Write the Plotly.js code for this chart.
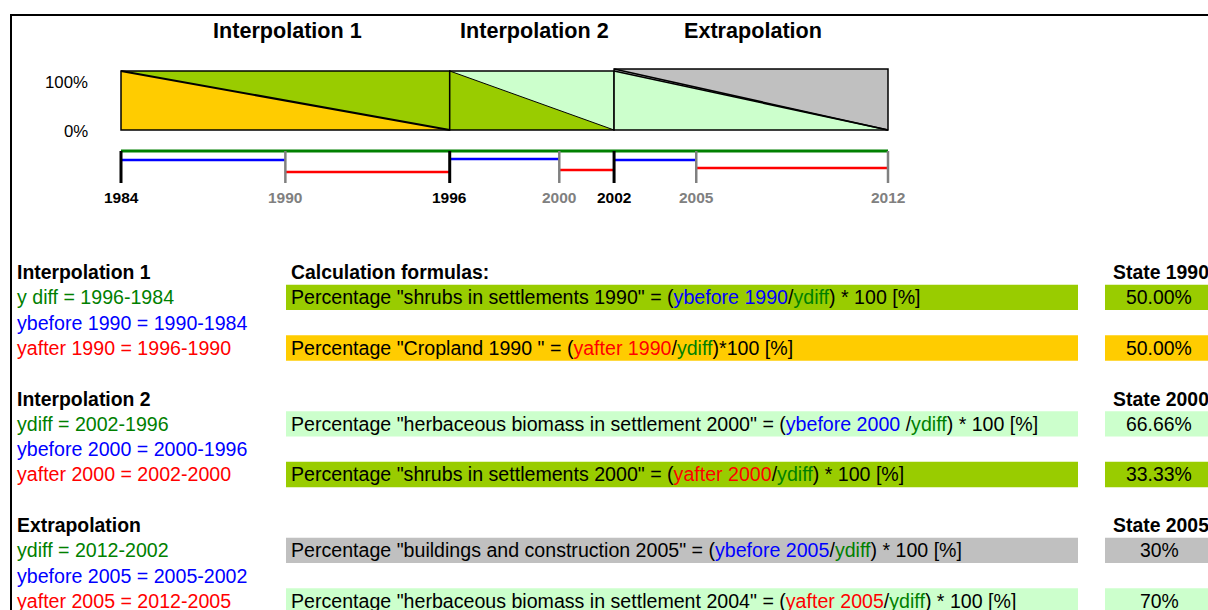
<!DOCTYPE html>
<html><head><meta charset="utf-8">
<script src="https://cdn.plot.ly/plotly-3.0.1.min.js"></script>
<style>html,body{margin:0;padding:0;background:#fff;overflow:hidden}#chart{width:1208px;height:610px}</style>
</head><body><div id="chart"></div>
<script>
// ---------------- data ----------------
const bandTitles = ['Interpolation 1', 'Interpolation 2', 'Extrapolation'];
const bandStart = [1984, 1996, 2002];
const bandEnd = [1996, 2002, 2012];
const stateYears = [1990, 2000, 2005];
const tickYears = [1984, 1990, 1996, 2000, 2002, 2005, 2012];
const keyYears = [1984, 1996, 2002];
const shareTop = 100;   // %
const shareBottom = 0;  // %
const yTickLabels = ['100%', '0%'];

const sectionHeaders = ['Interpolation 1', 'Interpolation 2', 'Extrapolation'];
const diffTexts = ['y diff = 1996-1984', 'ydiff = 2002-1996', 'ydiff = 2012-2002'];
const beforeTexts = ['ybefore 1990 = 1990-1984', 'ybefore 2000 = 2000-1996', 'ybefore 2005 = 2005-2002'];
const afterTexts = ['yafter 1990 = 1996-1990', 'yafter 2000 = 2002-2000', 'yafter 2005 = 2012-2005'];
const beforeFormulas = [
  'Percentage "shrubs in settlements 1990" = (<B>ybefore 1990</B>/<G>ydiff</G>) * 100 [%]',
  'Percentage "herbaceous biomass in settlement 2000" = (<B>ybefore 2000 </B>/<G>ydiff</G>) * 100 [%]',
  'Percentage "buildings and construction 2005" = (<B>ybefore 2005</B>/<G>ydiff</G>) * 100 [%]'
];
const afterFormulas = [
  'Percentage "Cropland 1990 " = (<R>yafter 1990</R>/<G>ydiff</G>)*100 [%]',
  'Percentage "shrubs in settlements 2000" = (<R>yafter 2000</R>/<G>ydiff</G>) * 100 [%]',
  'Percentage "herbaceous biomass in settlement 2004" = (<R>yafter 2005</R>/<G>ydiff</G>) * 100 [%]'
];
const beforeValues = ['50.00%', '66.66%', '30%'];
const afterValues = ['50.00%', '33.33%', '70%'];
const stateHeaders = ['State 1990', 'State 2000', 'State 2005'];
const formulasHeader = 'Calculation formulas:';

// ---------------- styles / layout constants ----------------
const W = 1208, H = 610;
const FONT = 'Arial, "Liberation Sans", sans-serif';
const C_YELLOW = '#FFCC00', C_GREEN = '#99CC00', C_LIGHT = '#CCFFCC', C_GREY = '#C0C0C0';
const lowerColors = [C_YELLOW, C_GREEN, C_LIGHT];
const upperColors = [C_GREEN, C_LIGHT, C_GREY];
const diagWidths = [2, 1, 1.5];
const topOffset = [0, 0, 3.4];   // extra height (in %) of the drawn box
const T_GREEN = '#008000', T_BLUE = '#0000FF', T_RED = '#FF0000', T_GREYTXT = '#808080';
const titleCentersPx = [287, 534, 753];
// year axis: 1984 -> px 121, 2012 -> px 888
const pxPerYear = (888 - 121) / 28;
const X0 = 1984 - 121 / pxPerYear, X1 = X0 + W / pxPerYear;
// percent axis: 100% -> px 71, 0% -> px 130
const pxPerPct = (130 - 71) / 100;
const Y0 = -(H - 130) / pxPerPct, Y1 = 100 + 71 / pxPerPct;
const px = x => x / W, py = y => 1 - y / H;
const ROW0 = 272, ROWH = 25.3;
const rowY = i => ROW0 + ROWH * i;
const greenLinePx = 151, blueLinePx = [160, 159, 160], redLinePx = [172, 170, 168];
const tickTopPx = 151, tickBotPx = 183, tickLabelPx = 197;
const TF = 19.6, TFB = 19.4, TITLE_F = 21.6, YEAR_F = 15.5, PCT_F = 16.8, VAL_F = 19.4;

function colorize(s) {
  return s.replace(/<B>/g, '<span style="color:' + T_BLUE + '">')
          .replace(/<G>/g, '<span style="color:' + T_GREEN + '">')
          .replace(/<R>/g, '<span style="color:' + T_RED + '">')
          .replace(/<\/[BGR]>/g, '</span>');
}

const shapes = [];
const annotations = [];

// frame lines
shapes.push({type: 'line', xref: 'paper', yref: 'paper', x0: px(11), x1: px(1215), y0: py(15), y1: py(15), line: {color: '#000', width: 2}});
shapes.push({type: 'line', xref: 'paper', yref: 'paper', x0: px(11), x1: px(11), y0: py(14), y1: py(615), line: {color: '#000', width: 2}});

// bands
for (let i = 0; i < bandStart.length; i++) {
  const a = bandStart[i], b = bandEnd[i];
  const top = shareTop + topOffset[i];
  shapes.push({type: 'path', xref: 'x', yref: 'y', layer: 'above',
    path: `M${a},${top} L${b},${top} L${b},${shareBottom} L${a},${shareBottom} Z`,
    fillcolor: upperColors[i], line: {width: 0}});
  shapes.push({type: 'path', xref: 'x', yref: 'y', layer: 'above',
    path: `M${a},${shareTop} L${b},${shareBottom} L${a},${shareBottom} Z`,
    fillcolor: lowerColors[i], line: {width: 0}});
  shapes.push({type: 'line', xref: 'x', yref: 'y', layer: 'above',
    x0: a, y0: shareTop, x1: b, y1: shareBottom, line: {color: '#000', width: diagWidths[i]}});
  if (topOffset[i] > 0) {
    shapes.push({type: 'line', xref: 'x', yref: 'y', layer: 'above',
      x0: a, y0: top, x1: b, y1: shareBottom, line: {color: '#000', width: diagWidths[i]}});
  }
  shapes.push({type: 'rect', xref: 'x', yref: 'y', layer: 'above',
    x0: a, y0: shareBottom, x1: b, y1: top, line: {color: '#000', width: 1.5}, fillcolor: 'rgba(0,0,0,0)'});
  annotations.push({xref: 'paper', yref: 'paper', x: px(titleCentersPx[i]), y: py(30), xanchor: 'center', yanchor: 'middle',
    text: '<b>' + bandTitles[i] + '</b>', showarrow: false, font: {family: FONT, size: TITLE_F, color: '#000'}});
}
// percent labels
annotations.push({xref: 'paper', yref: 'paper', x: px(90), y: py(82), xanchor: 'right', yanchor: 'middle', showarrow: false,
  text: yTickLabels[0], font: {family: FONT, size: PCT_F, color: '#000'}});
annotations.push({xref: 'paper', yref: 'paper', x: px(90), y: py(131), xanchor: 'right', yanchor: 'middle', showarrow: false,
  text: yTickLabels[1], font: {family: FONT, size: PCT_F, color: '#000'}});

// timeline
const tl = (y) => py(y);
shapes.push({type: 'line', xref: 'x', yref: 'paper', x0: bandStart[0], x1: bandEnd[bandEnd.length - 1],
  y0: tl(greenLinePx), y1: tl(greenLinePx), line: {color: T_GREEN, width: 3}});
for (let i = 0; i < stateYears.length; i++) {
  shapes.push({type: 'line', xref: 'x', yref: 'paper', x0: bandStart[i], x1: stateYears[i],
    y0: tl(blueLinePx[i]), y1: tl(blueLinePx[i]), line: {color: T_BLUE, width: 2.5}});
  shapes.push({type: 'line', xref: 'x', yref: 'paper', x0: stateYears[i], x1: bandEnd[i],
    y0: tl(redLinePx[i]), y1: tl(redLinePx[i]), line: {color: T_RED, width: 2.5}});
}
tickYears.forEach(yr => {
  const key = keyYears.includes(yr);
  shapes.push({type: 'line', xref: 'x', yref: 'paper', x0: yr, x1: yr, y0: tl(tickTopPx), y1: tl(tickBotPx),
    line: {color: key ? '#000' : T_GREYTXT, width: key ? 3 : 2.5}});
  annotations.push({xref: 'x', yref: 'paper', x: yr, y: tl(tickLabelPx), xanchor: 'center', yanchor: 'middle', showarrow: false,
    text: '<b>' + yr + '</b>', font: {family: FONT, size: YEAR_F, color: key ? '#000' : T_GREYTXT}});
});

// table
annotations.push({xref: 'paper', yref: 'paper', x: px(289), y: py(rowY(0)), xanchor: 'left', yanchor: 'middle', showarrow: false,
  text: '<b>' + formulasHeader + '</b>', font: {family: FONT, size: TFB, color: '#000'}});
for (let s = 0; s < 3; s++) {
  const base = s * 5;
  const leftRows = [
    ['<b>' + sectionHeaders[s] + '</b>', '#000'],
    [diffTexts[s], T_GREEN],
    [beforeTexts[s], T_BLUE],
    [afterTexts[s], T_RED]
  ];
  leftRows.forEach((r, k) => {
    annotations.push({xref: 'paper', yref: 'paper', x: px(15), y: py(rowY(base + k)), xanchor: 'left', yanchor: 'middle',
      showarrow: false, text: r[0], font: {family: FONT, size: k === 0 ? TFB : TF, color: r[1]}});
  });
  annotations.push({xref: 'paper', yref: 'paper', x: px(1111), y: py(rowY(base)), xanchor: 'left', yanchor: 'middle',
    showarrow: false, text: '<b>' + stateHeaders[s] + '</b>', font: {family: FONT, size: TFB, color: '#000'}});
  const cellRows = [[base + 1, beforeFormulas[s], beforeValues[s], upperColors[s]],
                    [base + 3, afterFormulas[s], afterValues[s], lowerColors[s]]];
  cellRows.forEach(c => {
    const yc = rowY(c[0]);
    shapes.push({type: 'rect', xref: 'paper', yref: 'paper', x0: px(286), x1: px(1078), y0: py(yc - 12.6), y1: py(yc + 12.8),
      fillcolor: c[3], line: {width: 0}, layer: 'below'});
    shapes.push({type: 'rect', xref: 'paper', yref: 'paper', x0: px(1105), x1: px(1220), y0: py(yc - 12.6), y1: py(yc + 12.8),
      fillcolor: c[3], line: {width: 0}, layer: 'below'});
    annotations.push({xref: 'paper', yref: 'paper', x: px(289), y: py(yc), xanchor: 'left', yanchor: 'middle', showarrow: false,
      text: colorize(c[1]), font: {family: FONT, size: TF, color: '#000'}});
    annotations.push({xref: 'paper', yref: 'paper', x: px(1159), y: py(yc), xanchor: 'center', yanchor: 'middle', showarrow: false,
      text: c[2], font: {family: FONT, size: VAL_F, color: '#000'}});
  });
}

const layout = {
  width: W, height: H, margin: {l: 0, r: 0, t: 0, b: 0, pad: 0},
  paper_bgcolor: '#fff', plot_bgcolor: 'rgba(0,0,0,0)', showlegend: false, hovermode: false,
  xaxis: {range: [X0, X1], visible: false, fixedrange: true},
  yaxis: {range: [Y0, Y1], visible: false, fixedrange: true},
  shapes: shapes, annotations: annotations
};
const data = [{type: 'scatter', x: [X0], y: [Y0], mode: 'markers', marker: {opacity: 0}, hoverinfo: 'skip'}];
Plotly.newPlot('chart', data, layout, {staticPlot: true, displayModeBar: false});
</script></body></html>
